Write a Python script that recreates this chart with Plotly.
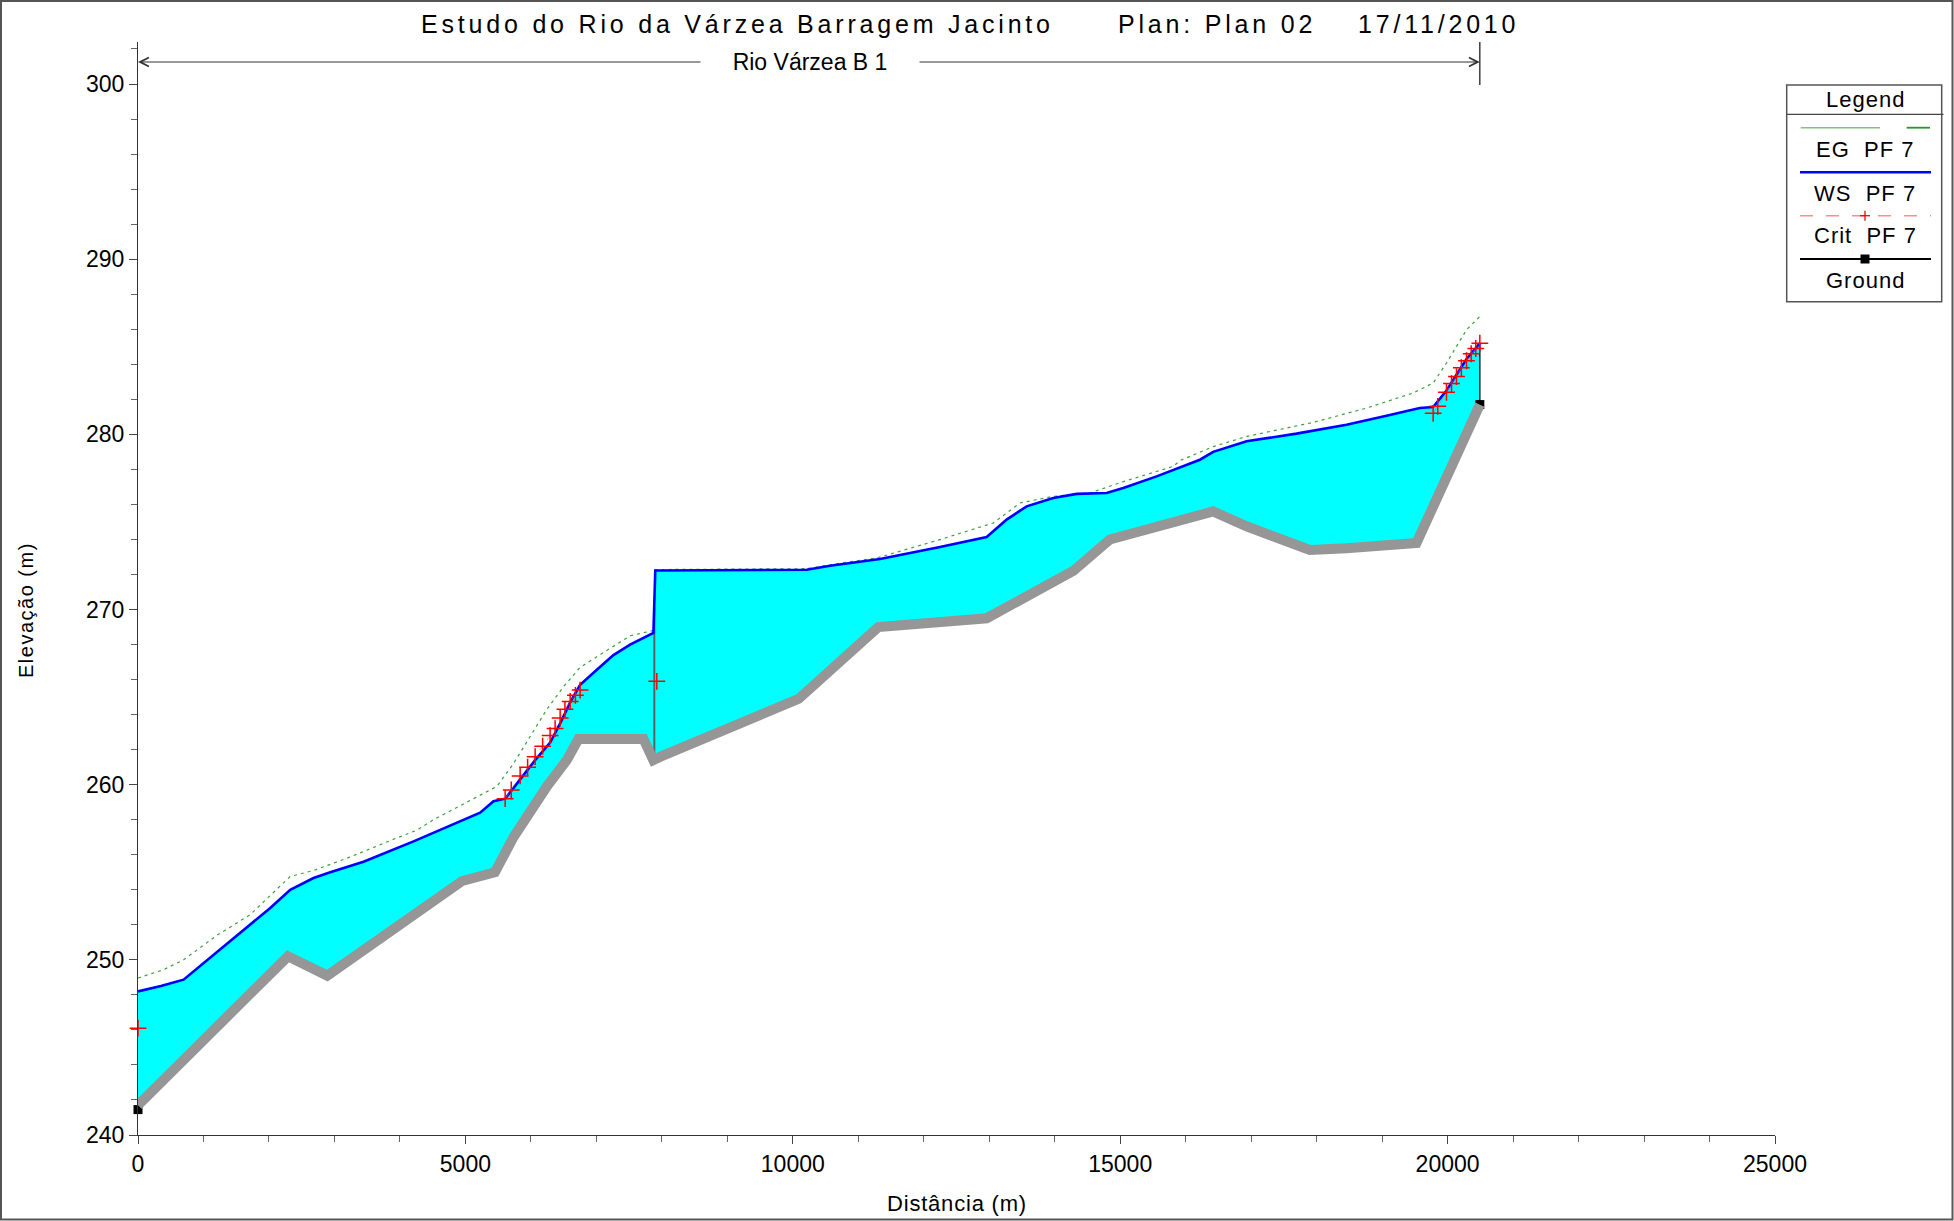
import plotly.graph_objects as go

# ---------------- data ----------------
ground_x = [0, 2290, 2890, 4950, 5450, 5734, 6244, 6549, 6726, 7720, 7870, 7980,
            10090, 11306, 12961, 14283, 14843, 16420, 16930, 17896, 18456, 19525, 20492]
ground_y = [241.7, 250.2, 249.1, 254.5, 255.0, 257.0, 259.9, 261.4, 262.6, 262.6, 261.4, 261.6,
            264.9, 269.0, 269.5, 272.2, 274.0, 275.6, 274.75, 273.4, 273.5, 273.8, 281.7]

ws_x = [0, 350, 696, 1154, 1664, 2020, 2325, 2681, 2936, 3444, 4208, 4971, 5225, 5429,
        5607, 5836, 6065, 6294, 6447, 6600, 6752, 7007, 7261, 7515, 7871, 7900,
        10213, 10569, 11332, 12248, 12961, 13266, 13571, 13978, 14335, 14793, 15047,
        15556, 16217, 16420, 16930, 17693, 18456, 19067, 19576, 19779, 19983, 20136,
        20289, 20492]
ws_y = [248.2, 248.5, 248.87, 250.3, 251.9, 252.96, 254.0, 254.67, 255.0, 255.6, 256.76, 258.0,
        258.4, 259.05, 259.2, 260.3, 261.4, 262.4, 263.5, 264.7, 265.7, 266.56, 267.4, 268.0,
        268.66, 272.23, 272.27, 272.5, 272.88, 273.57, 274.14, 275.13, 275.89, 276.37, 276.6,
        276.65, 276.94, 277.6, 278.55, 279.0, 279.6, 280.04, 280.55, 281.06, 281.5, 281.56,
        282.5, 283.4, 284.3, 285.2]

eg_x = [0, 391, 696, 1206, 1714, 2325, 2681, 3190, 3954, 4259, 4513, 5276, 5480, 5734,
        6244, 6500, 6752, 7007, 7261, 7515, 7871, 7900, 10213, 10569, 10824, 11282, 12248,
        13062, 13469, 13978, 14538, 15047, 15810, 15912, 16420, 16930, 17946, 18762, 19474,
        19779, 19983, 20289, 20492]
eg_y = [248.96, 249.44, 250.0, 251.4, 252.58, 254.76, 255.1, 255.8, 256.96, 257.4, 258.0,
        259.5, 259.9, 261.2, 264.3, 265.6, 266.7, 267.3, 267.9, 268.5, 268.8, 272.28, 272.33,
        272.55, 272.7, 272.94, 273.99, 274.94, 276.08, 276.46, 276.65, 277.3, 278.17, 278.5,
        279.3, 279.88, 280.68, 281.5, 282.36, 282.93, 284.07, 285.97, 286.73]

crit_x = [0, None,
          5607, 5700, 5836, 5950, 6065, 6180, 6294, 6370, 6447, 6520, 6600, 6680, 6752, None,
          7923, None,
          19779, 19850, 19983, 20060, 20136, 20210, 20289, 20360, 20430, 20492]
crit_y = [246.1, None,
          259.2, 259.7, 260.5, 261.0, 261.6, 262.2, 262.8, 263.2, 263.8, 264.3, 264.75, 265.1, 265.4, None,
          265.9, None,
          281.2, 281.6, 282.4, 282.9, 283.3, 283.8, 284.2, 284.6, 284.9, 285.2]

dam_x = [7885, 7885]
dam_y = [261.5, 270.1]

reach_name = "Rio Várzea B 1"
reach_start, reach_end = 0, 20492
reach_label_x = 10263

title_parts = ["Estudo do Rio da Várzea Barragem Jacinto", "Plan: Plan 02", "17/11/2010"]
legend_labels = ["EG  PF 7", "WS  PF 7", "Crit  PF 7", "Ground"]

x_ticks = [0, 5000, 10000, 15000, 20000, 25000]
y_ticks = [240, 250, 260, 270, 280, 290, 300]

# ---------------- layout geometry ----------------
W, H = 1954, 1221
ML, MR, MT, MB = 138, 179, 42, 86
PW, PH = W - ML - MR, H - MT - MB
Y0 = 240
PX_PER_M = (1135.3 - 84.3) / 60.0
Y1 = Y0 + PH / PX_PER_M
REACH_Y = Y0 + (H - MB - 62) / PX_PER_M
GAP_W = 216


def px(x):
    return (x - ML) / PW


def py(y):
    return (H - MB - y) / PH


FONT = "Liberation Sans"


def sp(text, ls):
    return '<span style="letter-spacing:%spx">%s</span>' % (ls, text)


fig = go.Figure()

# water fill between ground and water surface
fig.add_trace(go.Scatter(x=ground_x, y=ground_y, mode="lines", line=dict(width=0),
                         showlegend=False, hoverinfo="skip"))
fig.add_trace(go.Scatter(x=ws_x, y=ws_y, mode="lines", line=dict(width=0),
                         fill="tonexty", fillcolor="#00FFFF", showlegend=False, hoverinfo="skip"))

# dam / structure
fig.add_trace(go.Scatter(x=dam_x, y=dam_y, mode="lines", line=dict(color="#606060", width=2),
                         showlegend=False))

# end wall of the water
fig.add_trace(go.Scatter(x=[ground_x[-1], ws_x[-1]], y=[ground_y[-1], ws_y[-1]], mode="lines",
                         line=dict(color="#202020", width=1.5), showlegend=False))

# ground: black end markers under a thick grey bed
fig.add_trace(go.Scatter(x=[ground_x[0], ground_x[-1]], y=[ground_y[0] - 0.25, ground_y[-1]],
                         mode="markers", marker=dict(symbol="square", size=9, color="black"),
                         showlegend=False, cliponaxis=False))
fig.add_trace(go.Scatter(x=ground_x, y=ground_y, mode="lines",
                         line=dict(color="rgb(150,150,150)", width=10), name="Ground",
                         showlegend=False))

# energy grade line
fig.add_trace(go.Scatter(x=eg_x, y=eg_y, mode="lines",
                         line=dict(color="rgb(60,160,60)", width=1.2, dash="3px,4px"),
                         name="EG PF 7", showlegend=False))
# water surface
fig.add_trace(go.Scatter(x=ws_x, y=ws_y, mode="lines",
                         line=dict(color="#0000FF", width=2.6), name="WS PF 7", showlegend=False))
# critical depth
fig.add_trace(go.Scatter(x=crit_x, y=crit_y, mode="lines+markers", connectgaps=False,
                         line=dict(color="rgba(255,80,80,0.6)", width=1, dash="6px,6px"),
                         marker=dict(symbol="cross-thin", size=12,
                                     line=dict(color="#FF0000", width=1.5)),
                         name="Crit PF 7", showlegend=False, cliponaxis=False))

annotations = []
shapes = []

# reach bracket
annotations.append(dict(x=reach_start, y=REACH_Y, xref="x", yref="y",
                        ax=reach_label_x, ay=REACH_Y, axref="x", ayref="y",
                        text=reach_name, showarrow=True, arrowhead=5, arrowsize=1.6,
                        arrowwidth=1.1, arrowcolor="#333333", bgcolor="white", width=GAP_W,
                        font=dict(family=FONT, size=23, color="black")))
annotations.append(dict(x=reach_end, y=REACH_Y, xref="x", yref="y",
                        ax=reach_label_x + (GAP_W / 2) * 25000 / PW, ay=REACH_Y,
                        axref="x", ayref="y", text="", showarrow=True, arrowhead=5, arrowsize=1.6,
                        arrowwidth=1.1, arrowcolor="#333333"))
shapes.append(dict(type="line", xref="x", yref="y", x0=reach_end, x1=reach_end,
                   y0=299.95, y1=Y1, line=dict(color="#222222", width=1.3)))

# title
for txt, cx in zip(title_parts, [737.5, 1216.5, 1438]):
    annotations.append(dict(x=px(cx), y=py(24), xref="paper", yref="paper",
                            text=sp(txt, 3.8), showarrow=False, xanchor="center", yanchor="middle",
                            font=dict(family=FONT, size=25, color="black")))

# axis titles
annotations.append(dict(x=px(956.5), y=py(1203), xref="paper", yref="paper",
                        text=sp("Distância (m)", 0.8), showarrow=False,
                        xanchor="center", yanchor="middle",
                        font=dict(family=FONT, size=22, color="black")))
annotations.append(dict(x=px(26), y=py(610), xref="paper", yref="paper",
                        text=sp("Elevação (m)", 1.5), showarrow=False, textangle=-90,
                        xanchor="center", yanchor="middle",
                        font=dict(family=FONT, size=20, color="black")))

# legend box
LX0, LX1, LY0, LY1 = 1786.7, 1941.7, 85, 301.7
shapes.append(dict(type="rect", xref="paper", yref="paper", x0=px(LX0), x1=px(LX1),
                   y0=py(LY1), y1=py(LY0), line=dict(color="#555555", width=1.5),
                   fillcolor="white", layer="below"))
shapes.append(dict(type="line", xref="paper", yref="paper", x0=px(LX0), x1=px(1943.5),
                   y0=py(114.3), y1=py(114.3), line=dict(color="#444444", width=1.3)))
annotations.append(dict(x=px(1865), y=py(99), xref="paper", yref="paper", text=sp("Legend", 1),
                        showarrow=False, xanchor="center", yanchor="middle",
                        font=dict(family=FONT, size=22, color="black")))
for lab, ty in zip(legend_labels, [150, 193.3, 235, 280.7]):
    annotations.append(dict(x=px(1865), y=py(ty), xref="paper", yref="paper", text=sp(lab, 1),
                            showarrow=False, xanchor="center", yanchor="middle",
                            font=dict(family=FONT, size=22, color="black")))
# EG sample
shapes.append(dict(type="line", xref="paper", yref="paper", x0=px(1800.7), x1=px(1880),
                   y0=py(127.7), y1=py(127.7), line=dict(color="rgb(120,200,120)", width=1.6)))
shapes.append(dict(type="line", xref="paper", yref="paper", x0=px(1906.7), x1=px(1930),
                   y0=py(127.7), y1=py(127.7), line=dict(color="rgb(40,150,40)", width=1.8)))
# WS sample
shapes.append(dict(type="line", xref="paper", yref="paper", x0=px(1800), x1=px(1931),
                   y0=py(172.3), y1=py(172.3), line=dict(color="#0000FF", width=2.4)))
# Crit sample
shapes.append(dict(type="line", xref="paper", yref="paper", x0=px(1800), x1=px(1931),
                   y0=py(215.7), y1=py(215.7),
                   line=dict(color="rgb(255,140,140)", width=1.5, dash="13px,13px")))
shapes.append(dict(type="line", xref="paper", yref="paper", x0=px(1860), x1=px(1870),
                   y0=py(215.7), y1=py(215.7), line=dict(color="#FF0000", width=1.3)))
shapes.append(dict(type="line", xref="paper", yref="paper", x0=px(1865), x1=px(1865),
                   y0=py(210.7), y1=py(220.7), line=dict(color="#FF0000", width=1.3)))
# Ground sample
shapes.append(dict(type="line", xref="paper", yref="paper", x0=px(1800), x1=px(1931),
                   y0=py(259), y1=py(259), line=dict(color="black", width=2.2)))
shapes.append(dict(type="rect", xref="paper", yref="paper", x0=px(1860.5), x1=px(1869.5),
                   y0=py(263.5), y1=py(254.5), line=dict(color="black", width=0),
                   fillcolor="black"))

# outer frame
shapes.append(dict(type="rect", xref="paper", yref="paper", x0=px(1), x1=px(1952.5),
                   y0=py(1219.5), y1=py(1), line=dict(color="#555555", width=2)))

axis_common = dict(showgrid=False, zeroline=False, showline=True, linecolor="#333333",
                   linewidth=1.3, ticks="outside", tickcolor="#444444", ticklen=8, tickwidth=1.2,
                   tickfont=dict(family=FONT, size=23, color="black"), automargin=False)

fig.update_layout(
    width=W, height=H,
    margin=dict(l=ML, r=MR, t=MT, b=MB, pad=0, autoexpand=False),
    paper_bgcolor="white", plot_bgcolor="white",
    showlegend=False,
    xaxis=dict(range=[0, 25000], tickvals=x_ticks, ticktext=[str(v) for v in x_ticks],
               minor=dict(dtick=1000, ticks="outside", ticklen=6, tickcolor="#666666"),
               **axis_common),
    yaxis=dict(range=[Y0, Y1], tickvals=y_ticks, ticktext=[str(v) for v in y_ticks],
               minor=dict(dtick=2, ticks="outside", ticklen=6, tickcolor="#666666"),
               **axis_common),
    annotations=annotations,
    shapes=shapes,
)

fig.write_html("out.html", config={"displayModeBar": False},
               post_script="document.body.style.margin='0px';document.body.style.padding='0px';")
